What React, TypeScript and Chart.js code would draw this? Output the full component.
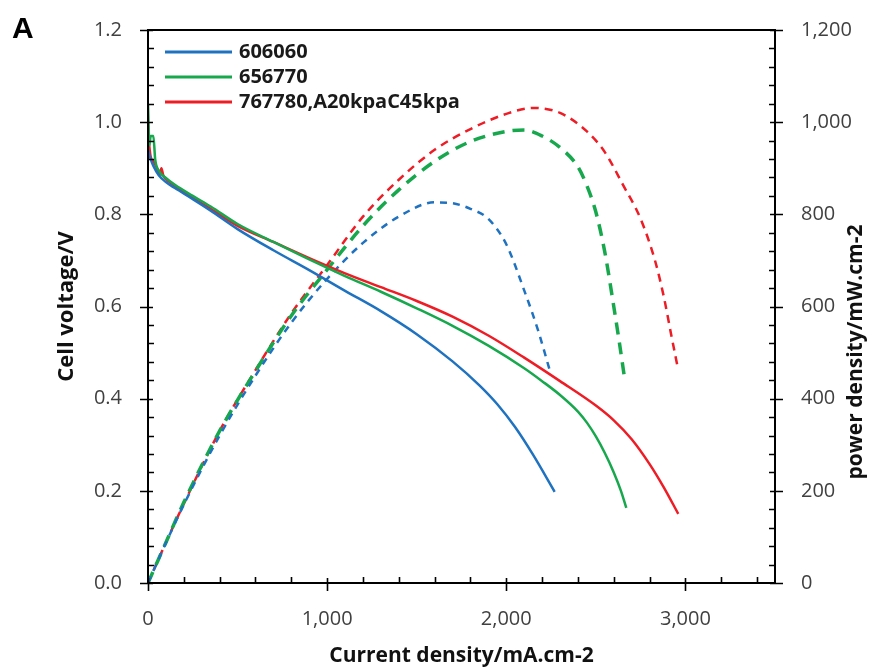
import React, { useEffect, useRef } from "react";
import { Chart, registerables } from "chart.js";

Chart.register(...registerables);

// ---- Data ----
const SERIES_NAMES = ["606060", "656770", "767780,A20kpaC45kpa"];
const COLORS = ["#1f72c0", "#17a84d", "#ee1c25"];

// Polarisation curves (current density mA/cm2, cell voltage V)
const BLUE_I = [0, 15, 30, 60, 100, 150, 250, 350, 500, 700, 900, 1100, 1300, 1500, 1700, 1850, 1950, 2050, 2150, 2270];
const BLUE_V = [0.94, 0.92, 0.905, 0.885, 0.87, 0.857, 0.833, 0.808, 0.768, 0.722, 0.679, 0.634, 0.59, 0.54, 0.481, 0.429, 0.388, 0.338, 0.278, 0.198];

const GREEN_I = [0, 8, 15, 30, 40, 60, 100, 150, 250, 350, 500, 700, 900, 1100, 1300, 1500, 1700, 1900, 2100, 2200, 2300, 2400, 2450, 2500, 2550, 2600, 2640, 2670];
const GREEN_V = [1.04, 0.95, 0.97, 0.97, 0.92, 0.895, 0.879, 0.864, 0.84, 0.817, 0.779, 0.74, 0.702, 0.666, 0.632, 0.596, 0.558, 0.515, 0.466, 0.438, 0.408, 0.372, 0.348, 0.318, 0.282, 0.24, 0.2, 0.163];

const RED_I = [0, 5, 15, 30, 50, 65, 75, 85, 100, 150, 250, 350, 500, 700, 900, 1100, 1300, 1500, 1700, 1900, 2100, 2300, 2500, 2600, 2700, 2800, 2880, 2960];
const RED_V = [1.0, 0.96, 0.925, 0.915, 0.9, 0.885, 0.9, 0.885, 0.877, 0.862, 0.836, 0.812, 0.775, 0.74, 0.705, 0.672, 0.642, 0.612, 0.578, 0.537, 0.489, 0.438, 0.385, 0.353, 0.312, 0.258, 0.207, 0.15];

// Power density curves (current density mA/cm2, power density mW/cm2)
const BLUE_PI = [0, 100, 200, 400, 600, 800, 1000, 1200, 1400, 1600, 1700, 1800, 1900, 2000, 2100, 2180, 2240];
const BLUE_P = [0, 87, 170, 320, 450, 565, 660, 738, 795, 826, 824, 812, 790, 735, 635, 545, 465];

const GREEN_PI = [0, 100, 200, 400, 600, 800, 1000, 1200, 1400, 1600, 1800, 2000, 2100, 2200, 2300, 2400, 2450, 2500, 2550, 2600, 2630, 2660];
const GREEN_P = [0, 88, 175, 330, 460, 580, 680, 775, 853, 915, 958, 980, 983, 970, 945, 903, 862, 805, 718, 600, 525, 445];

const RED_PI = [0, 100, 200, 400, 600, 800, 1000, 1200, 1400, 1600, 1800, 2000, 2150, 2300, 2450, 2550, 2650, 2750, 2830, 2880, 2920, 2960];
const RED_P = [0, 88, 172, 330, 462, 585, 690, 795, 875, 940, 985, 1018, 1031, 1020, 980, 935, 865, 790, 700, 620, 540, 462];

// Axis settings
const X_MAX = 3500;
const X_LAST_LABEL = 3000;
const X_MAJOR = 1000;
const X_MINOR = 200;
const Y_MAX = 1.2;
const Y_MAJOR = 0.2;
const Y_MINOR = 0.04;
const Y1_MAX = 1200;
const Y1_MAJOR = 200;
const Y1_MINOR = 40;

const X_TITLE = "Current density/mA.cm-2";
const Y_TITLE = "Cell voltage/V";
const Y1_TITLE = "power density/mW.cm-2";
const PANEL_LABEL = "A";

const FONT = "'Open Sans', 'Noto Sans', sans-serif";

const zip = (xs: number[], ys: number[]) => xs.map((x, i) => ({ x, y: ys[i] }));

const majorTicks = (max: number, step: number) => {
  const out: { value: number }[] = [];
  const n = Math.floor(max / step + 1e-6);
  for (let k = 0; k <= n; k++) out.push({ value: +(k * step).toFixed(6) });
  return out;
};

const fixBox = (w: number | null, h: number | null) => (s: any) => {
  if (w !== null) s.width = w;
  if (h !== null) s.height = h;
  s.paddingTop = 0;
  s.paddingBottom = 0;
  s.paddingLeft = 0;
  s.paddingRight = 0;
};

const framePlugin = {
  id: "frameTicks",
  afterDatasetsDraw(chart: any) {
    const { ctx, chartArea, scales } = chart;
    const { left, right, top, bottom } = chartArea;
    ctx.save();
    ctx.strokeStyle = "#000";
    ctx.lineWidth = 2;
    ctx.beginPath();
    ctx.rect(left, top, right - left, bottom - top);
    ctx.stroke();
    ctx.lineWidth = 1.6;
    ctx.beginPath();
    for (let k = 0; k * X_MINOR <= X_MAX + 1e-6; k++) {
      const v = k * X_MINOR;
      const px = Math.round(scales.x.getPixelForValue(v)) + 0.5;
      const major = Math.abs(v % X_MAJOR) < 1e-6;
      ctx.moveTo(px, bottom + (major ? 8 : 0));
      ctx.lineTo(px, bottom - (major ? 5 : 6));
    }
    const nY = Math.round(Y_MAX / Y_MINOR);
    const rY = Math.round(Y_MAJOR / Y_MINOR);
    for (let k = 0; k <= nY; k++) {
      const py = Math.round(scales.y.getPixelForValue(k * Y_MINOR)) + 0.5;
      const major = k % rY === 0;
      ctx.moveTo(left - (major ? 8 : 0), py);
      ctx.lineTo(left + (major ? 5 : 6), py);
    }
    const nY1 = Math.round(Y1_MAX / Y1_MINOR);
    const rY1 = Math.round(Y1_MAJOR / Y1_MINOR);
    for (let k = 0; k <= nY1; k++) {
      const py = Math.round(scales.y1.getPixelForValue(k * Y1_MINOR)) + 0.5;
      const major = k % rY1 === 0;
      ctx.moveTo(right + (major ? 8 : 0), py);
      ctx.lineTo(right - (major ? 5 : 6), py);
    }
    ctx.stroke();
    ctx.restore();
  },
  afterDraw(chart: any) {
    const { ctx } = chart;
    ctx.save();
    ctx.fillStyle = "#111";
    ctx.font = `bold 21px ${FONT}`;
    ctx.textAlign = "center";
    ctx.textBaseline = "middle";
    ctx.translate(856, 352);
    ctx.rotate(-Math.PI / 2);
    ctx.fillText(Y1_TITLE, 0, 0);
    ctx.restore();

    ctx.save();
    ctx.fillStyle = "#000";
    ctx.font = `bold 30px 'Liberation Sans', Arial, sans-serif`;
    ctx.textAlign = "left";
    ctx.textBaseline = "alphabetic";
    ctx.fillText(PANEL_LABEL, 12, 38);
    ctx.restore();

    ctx.save();
    const rows = [52, 77, 102];
    for (let i = 0; i < SERIES_NAMES.length; i++) {
      const ds = chart.data.datasets[i];
      ctx.strokeStyle = ds.borderColor;
      ctx.lineWidth = 3;
      ctx.beginPath();
      ctx.moveTo(165, rows[i]);
      ctx.lineTo(232, rows[i]);
      ctx.stroke();
      ctx.fillStyle = "#1a1a1a";
      ctx.font = `bold 20px ${FONT}`;
      ctx.textAlign = "left";
      ctx.textBaseline = "middle";
      ctx.fillText(ds.label, 239, rows[i]);
    }
    ctx.restore();
  },
};

export default function App() {
  const ref = useRef<HTMLCanvasElement | null>(null);

  useEffect(() => {
    if (!ref.current) return;
    const solid = [zip(BLUE_I, BLUE_V), zip(GREEN_I, GREEN_V), zip(RED_I, RED_V)];
    const power = [zip(BLUE_PI, BLUE_P), zip(GREEN_PI, GREEN_P), zip(RED_PI, RED_P)];
    const dashes = [
      [7, 6],
      [12, 8],
      [8, 6],
    ];
    const dashWidths = [2.5, 3.5, 2.5];

    const datasets: any[] = [];
    solid.forEach((d, i) =>
      datasets.push({
        label: SERIES_NAMES[i],
        data: d,
        borderColor: COLORS[i],
        borderWidth: 2.5,
        pointRadius: 0,
        cubicInterpolationMode: "monotone",
        yAxisID: "y",
        fill: false,
      })
    );
    power.forEach((d, i) =>
      datasets.push({
        label: SERIES_NAMES[i] + " power",
        data: d,
        borderColor: COLORS[i],
        borderWidth: dashWidths[i],
        borderDash: dashes[i],
        pointRadius: 0,
        cubicInterpolationMode: "monotone",
        yAxisID: "y1",
        fill: false,
      })
    );

    const tickFont = { family: FONT, size: 20 };
    const titleFont = { family: FONT, size: 21, weight: "bold" as const };

    const chart = new Chart(ref.current, {
      type: "line",
      data: { datasets },
      options: {
        responsive: false,
        animation: false,
        layout: { padding: { top: 30, left: 0, right: 0, bottom: 0 } },
        plugins: {
          legend: { display: false },
          tooltip: { enabled: false },
        },
        scales: {
          x: {
            type: "linear",
            min: 0,
            max: X_MAX,
            grid: { display: false },
            border: { display: false },
            afterBuildTicks: (s: any) => {
              s.ticks = majorTicks(X_LAST_LABEL, X_MAJOR);
            },
            ticks: {
              padding: 16,
              color: "#404040",
              font: tickFont,
              callback: (v: any) => Number(v).toLocaleString("en-US"),
            },
            title: {
              display: true,
              text: X_TITLE,
              color: "#111",
              font: titleFont,
              padding: { top: 0, bottom: 0 },
            },
            afterFit: fixBox(null, 86),
          },
          y: {
            type: "linear",
            position: "left",
            min: 0,
            max: Y_MAX,
            grid: { display: false },
            border: { display: false },
            afterBuildTicks: (s: any) => {
              s.ticks = majorTicks(Y_MAX, Y_MAJOR);
            },
            ticks: {
              padding: 18,
              color: "#404040",
              font: tickFont,
              callback: (v: any) => Number(v).toFixed(1),
            },
            title: {
              display: true,
              text: Y_TITLE,
              color: "#111",
              font: { family: FONT, size: 22, weight: "bold" as const },
              padding: { top: 54, bottom: 0 },
            },
            afterFit: fixBox(148, null),
          },
          y1: {
            type: "linear",
            position: "right",
            min: 0,
            max: Y1_MAX,
            grid: { display: false },
            border: { display: false },
            afterBuildTicks: (s: any) => {
              s.ticks = majorTicks(Y1_MAX, Y1_MAJOR);
            },
            ticks: {
              padding: 18,
              color: "#404040",
              font: tickFont,
              callback: (v: any) => Number(v).toLocaleString("en-US"),
            },
            afterFit: fixBox(100, null),
          },
        },
      },
      plugins: [framePlugin],
    });
    return () => chart.destroy();
  }, []);

  return (
    <canvas
      ref={ref}
      width={875}
      height={669}
      style={{ position: "fixed", left: 0, top: 0, width: 875, height: 669, background: "#fff" }}
    />
  );
}
